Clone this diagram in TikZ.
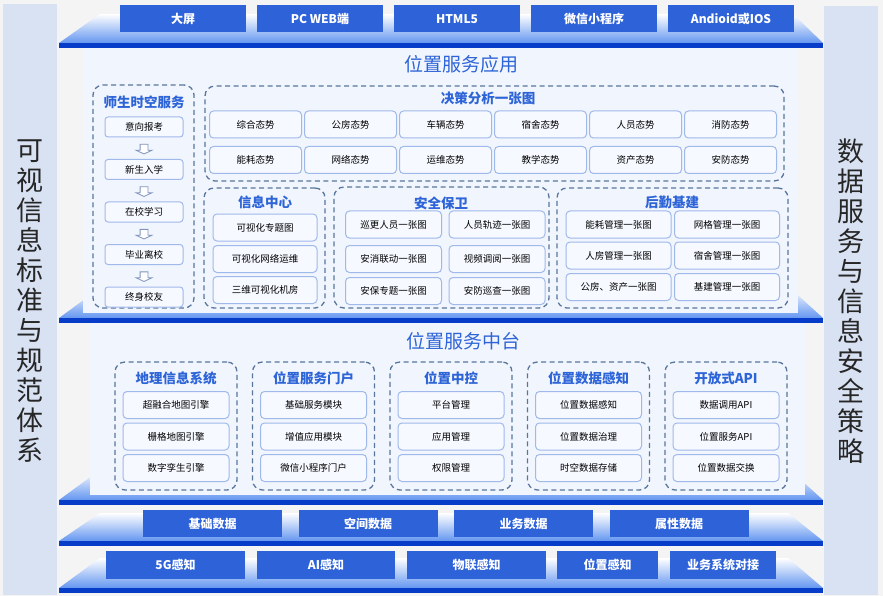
\documentclass[tikz,border=0pt]{standalone}
\usepackage{fontspec}
\setmainfont{Noto Sans CJK SC}
\usepackage{tikz}
\usetikzlibrary{shapes.arrows,calc,positioning}
\definecolor{boxblue}{RGB}{46,98,217}
\definecolor{barblue}{RGB}{6,60,200}
\definecolor{layerblue}{RGB}{100,150,240}
\definecolor{panelfill}{RGB}{241,245,253}
\definecolor{itemline}{RGB}{160,185,235}
\definecolor{itemfill}{RGB}{246,249,255}
\definecolor{dashline}{RGB}{88,118,155}
\definecolor{titleblue}{RGB}{45,100,215}
\definecolor{sidefill}{RGB}{217,226,243}
\definecolor{bggray}{RGB}{244,244,245}

\begin{document}
\begin{tikzpicture}[x=1pt, y=-1pt,
  termbox/.style={fill=boxblue, text=white, font=\bfseries\fontsize{12}{14}\selectfont, minimum height=27, inner sep=0},
  item/.style={draw=itemline, fill=itemfill, rounded corners=4, line width=1, minimum height=27, inner sep=0, font=\fontsize{9.5}{11}\selectfont},
  group/.style={draw=dashline, dash pattern=on 5pt off 3.5pt, line width=1.3, rounded corners=10, inner sep=0},
  gtitle/.style={text=titleblue, font=\bfseries\fontsize{13.5}{15}\selectfont, inner sep=0},
  sectitle/.style={text=titleblue, font=\fontsize{19}{22}\selectfont, inner sep=0},
  sidetext/.style={align=center, text=black!85, inner sep=0, font=\fontsize{27}{30}\selectfont},
  downarr/.style={single arrow, shape border rotate=270, draw=itemline!80!black, fill=white, line width=0.8,
    single arrow head extend=4, single arrow tip angle=130, minimum height=8, inner sep=3.5},
]
  \useasboundingbox (0,0) rectangle (883,596);
  \fill[bggray] (0,0) rectangle (883,596);
  \fill[sidefill] (3,4) rectangle (57,595);
  \fill[sidefill] (824,6) rectangle (878,595);

  % layer platforms
  \shade[top color=white, bottom color=layerblue] (100,14) -- (793,14) -- (823,43) -- (59,43) -- cycle;
  \fill[barblue] (59,43) rectangle (823,48);
  \shade[top color=white, bottom color=layerblue] (100,288) -- (790,288) -- (823,318) -- (59,318) -- cycle;
  \fill[barblue] (59,318) rectangle (823,323);
  \shade[top color=white, bottom color=layerblue] (100,470) -- (790,470) -- (823,500) -- (59,500) -- cycle;
  \fill[barblue] (59,500) rectangle (823,505);
  \shade[top color=white, bottom color=layerblue] (100,513) -- (788,513) -- (823,541) -- (59,541) -- cycle;
  \fill[barblue] (59,541) rectangle (823,546);
  \shade[top color=white, bottom color=layerblue] (100,558) -- (788,558) -- (823,588) -- (59,588) -- cycle;
  \fill[barblue] (59,588) rectangle (823,593);
  \fill[panelfill] (83,48) rectangle (798,313);
  \fill[panelfill] (90,323) rectangle (805,495);

  \node[sidetext] (stdside) at (30,301) {可\\视\\信\\息\\标\\准\\与\\规\\范\\体\\系};
  \node[sidetext] (secside) at (851,301) {数\\据\\服\\务\\与\\信\\息\\安\\全\\策\\略};

  % terminals
  \foreach \t [count=\i] in {大屏,PC WEB端,HTML5,微信小程序,Andioid或IOS}
    \node[termbox, minimum width=126] (term\i) at ({183+137*(\i-1)},19) {\t};

  % application layer
  \node[sectitle] (apptitle) at (461,64) {位置服务应用};

  \node[group, minimum width=101, minimum height=223] (sheng) at (143.5,196.5) {};
  \node[gtitle] (shengt) at (144,102) {师生时空服务};
  \foreach \t [count=\i] in {意向报考,新生入学,在校学习,毕业离校,终身校友}
    \node[item, rounded corners=3, minimum width=78, minimum height=20] (ss\i) at ({144},{127+42.5*(\i-1)}) {\t};
  \foreach \i [evaluate=\i as \j using int(\i+1)] in {1,...,4}
    \node[downarr] (sa\i) at ($(ss\i.south)!.5!(ss\j.north)$) {};

  \node[group, minimum width=579, minimum height=95] (juece) at (494.5,133.5) {};
  \node[gtitle] (juecet) at (488,98) {决策分析一张图};
  \foreach \t [count=\i] in {综合态势,公房态势,车辆态势,宿舍态势,人员态势,消防态势}
    \node[item, minimum width=92] (jca\i) at ({255.5+95*(\i-1)},124.5) {\t};
  \foreach \t [count=\i] in {能耗态势,网络态势,运维态势,教学态势,资产态势,安防态势}
    \node[item, minimum width=92] (jcb\i) at ({255.5+95*(\i-1)},160) {\t};

  \node[group, minimum width=121, minimum height=120] (xinxi) at (264.5,248) {};
  \node[gtitle] (xinxit) at (265,202) {信息中心};
  \node[item, minimum width=104] (xx1) at (265,227.5) {可视化专题图};
  \node[item, minimum width=104] (xx2) at (265,259) {可视化网络运维};
  \node[item, minimum width=104] (xx3) at (265,290) {三维可视化机房};

  \node[group, minimum width=215, minimum height=121] (anquan) at (441.5,247.5) {};
  \node[gtitle] (anquant) at (441,203) {安全保卫};
  \node[item, minimum width=96] (aq1) at (393.5,224.5) {巡更人员一张图};
  \node[item, minimum width=96] (aq2) at (497,224.5) {人员轨迹一张图};
  \node[item, minimum width=96] (aq3) at (393.5,259) {安消联动一张图};
  \node[item, minimum width=96] (aq4) at (497,259) {视频调阅一张图};
  \node[item, minimum width=96] (aq5) at (393.5,291) {安保专题一张图};
  \node[item, minimum width=96] (aq6) at (497,291) {安防巡查一张图};

  \node[group, minimum width=231, minimum height=120] (houqin) at (672.5,248) {};
  \node[gtitle] (houqint) at (672,202) {后勤基建};
  \node[item, minimum width=105] (hq1) at (618.5,224.5) {能耗管理一张图};
  \node[item, minimum width=105] (hq2) at (727,224.5) {网格管理一张图};
  \node[item, minimum width=105] (hq3) at (618.5,255.5) {人房管理一张图};
  \node[item, minimum width=105] (hq4) at (727,255.5) {宿舍管理一张图};
  \node[item, minimum width=105] (hq5) at (618.5,287) {公房、资产一张图};
  \node[item, minimum width=105] (hq6) at (727,287) {基建管理一张图};

  % middle platform
  \node[sectitle] (midtitle) at (463,341) {位置服务中台};
  \foreach \g/\a/\b/\c [count=\i] in {地理信息系统/超融合地图引擎/栅格地图引擎/数字孪生引擎,
      位置服务门户/基础服务模块/增值应用模块/微信小程序门户,
      位置中控/平台管理/应用管理/权限管理,
      位置数据感知/位置数据感知/位置数据治理/时空数据存储,
      开放式API/数据调用API/位置服务API/位置数据交换} {
    \node[group, minimum width=122, minimum height=128] (mid\i) at ({176+137.5*(\i-1)},426) {};
    \node[gtitle] (mid\i t) at ({176+137.5*(\i-1)},378) {\g};
    \node[item, minimum width=106] (mid\i a) at ({176+137.5*(\i-1)},405) {\a};
    \node[item, minimum width=106] (mid\i b) at ({176+137.5*(\i-1)},436.5) {\b};
    \node[item, minimum width=106] (mid\i c) at ({176+137.5*(\i-1)},468) {\c};
  }

  % data layer
  \foreach \t [count=\i] in {基础数据,空间数据,业务数据,属性数据}
    \node[termbox, minimum width=139] (data\i) at ({212.5+155.5*(\i-1)},523.5) {\t};

  % perception layer
  \node[termbox, minimum width=139, minimum height=28] (sense1) at (175.5,565) {5G感知};
  \node[termbox, minimum width=138, minimum height=28] (sense2) at (326,565) {AI感知};
  \node[termbox, minimum width=139, minimum height=28] (sense3) at (476.5,565) {物联感知};
  \node[termbox, minimum width=101, minimum height=28] (sense4) at (607.5,565) {位置感知};
  \node[termbox, minimum width=106, minimum height=28] (sense5) at (723,565) {业务系统对接};
\end{tikzpicture}
\end{document}
